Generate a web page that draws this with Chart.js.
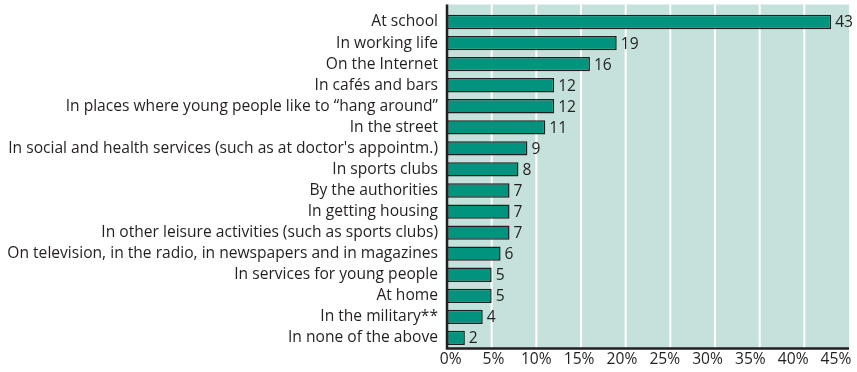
<!DOCTYPE html>
<html>
<head>
<meta charset="utf-8">
<script src="https://cdn.jsdelivr.net/npm/chart.js@4.4.1/dist/chart.umd.min.js"></script>
<style>
  html, body { margin: 0; padding: 0; background: #fff; }
  #wrap { width: 857px; height: 372px; }
</style>
</head>
<body>
<div id="wrap"><canvas id="chart"></canvas></div>
<script>
const places = [
  'At school',
  'In working life',
  'On the Internet',
  'In cafés and bars',
  'In places where young people like to \u201chang around\u201d',
  'In the street',
  "In social and health services (such as at doctor's appointm.)",
  'In sports clubs',
  'By the authorities',
  'In getting housing',
  'In other leisure activities (such as sports clubs)',
  'On television, in the radio, in newspapers and in magazines',
  'In services for young people',
  'At home',
  'In the military**',
  'In none of the above'
];
const shares = [43, 19, 16, 12, 12, 11, 9, 8, 7, 7, 7, 6, 5, 5, 4, 2];
const tickValues = [0, 5, 10, 15, 20, 25, 30, 35, 40, 45];

const FONT = '"Open Sans", Lato, sans-serif';
const FONT_SIZE = 15.6;
const TEXT = '#231f20';
const PANEL = '#c5e1dc';
const BAR = '#00937d';

// light panel, white gridlines and the black axes
const panel = {
  id: 'panel',
  beforeDatasetsDraw(chart) {
    const { ctx, chartArea: a, scales: { x } } = chart;
    const top = a.top - 7;
    ctx.save();
    ctx.fillStyle = PANEL;
    ctx.fillRect(a.left, top, a.right - a.left, a.bottom - top);
    ctx.strokeStyle = '#fff';
    ctx.lineWidth = 2;
    tickValues.slice(1, -1).forEach(v => {
      const px = x.getPixelForValue(v);
      ctx.beginPath();
      ctx.moveTo(px, top);
      ctx.lineTo(px, a.bottom);
      ctx.stroke();
    });
    ctx.restore();
  },
  afterDatasetsDraw(chart) {
    const { ctx, chartArea: a } = chart;
    ctx.save();
    ctx.strokeStyle = TEXT;
    ctx.lineWidth = 2.5;
    ctx.beginPath();
    ctx.moveTo(a.left, a.top - 7);
    ctx.lineTo(a.left, a.bottom);
    ctx.lineTo(a.right, a.bottom);
    ctx.stroke();
    ctx.restore();
  }
};

// value printed after each bar
const valueLabels = {
  id: 'valueLabels',
  afterDatasetsDraw(chart) {
    const { ctx } = chart;
    const meta = chart.getDatasetMeta(0);
    ctx.save();
    ctx.font = FONT_SIZE + 'px ' + FONT;
    ctx.fillStyle = TEXT;
    ctx.textAlign = 'left';
    ctx.textBaseline = 'middle';
    meta.data.forEach((bar, i) => {
      ctx.fillText(String(shares[i]), bar.x + 4, bar.y + 1);
    });
    ctx.restore();
  }
};

// keep the scales from pushing the plot area around
const noScalePadding = s => {
  s.paddingTop = 0;
  s.paddingBottom = 0;
  s.paddingLeft = 0;
  s.paddingRight = 0;
};

new Chart(document.getElementById('chart'), {
  type: 'bar',
  data: {
    labels: places,
    datasets: [{
      data: shares,
      backgroundColor: BAR,
      borderColor: TEXT,
      borderWidth: 1.5,
      borderSkipped: false,
      categoryPercentage: 1,
      barPercentage: 0.68
    }]
  },
  options: {
    indexAxis: 'y',
    responsive: true,
    maintainAspectRatio: false,
    animation: false,
    layout: { padding: { top: 11.5, right: 8, bottom: 0.6, left: 0 } },
    plugins: { legend: { display: false }, tooltip: { enabled: false } },
    scales: {
      x: {
        display: false,
        min: 0,
        max: 45
      },
      // tick labels sit on their own slightly narrower scale
      xLabels: {
        type: 'linear',
        position: 'bottom',
        min: -0.43,
        max: 46.52,
        grid: { display: false, drawTicks: false },
        border: { display: false },
        afterBuildTicks: s => { s.ticks = tickValues.map(v => ({ value: v })); },
        afterFit: noScalePadding,
        ticks: {
          padding: 2.1,
          maxRotation: 0,
          autoSkip: false,
          color: TEXT,
          font: { family: FONT, size: FONT_SIZE },
          callback: v => v + '%'
        }
      },
      y: {
        grid: { display: false, drawTicks: false },
        border: { display: false },
        afterFit: s => {
          noScalePadding(s);
          s.width = 447;
        },
        ticks: {
          padding: 9,
          autoSkip: false,
          color: TEXT,
          font: { family: FONT, size: FONT_SIZE }
        }
      }
    }
  },
  plugins: [panel, valueLabels]
});
</script>
</body>
</html>
